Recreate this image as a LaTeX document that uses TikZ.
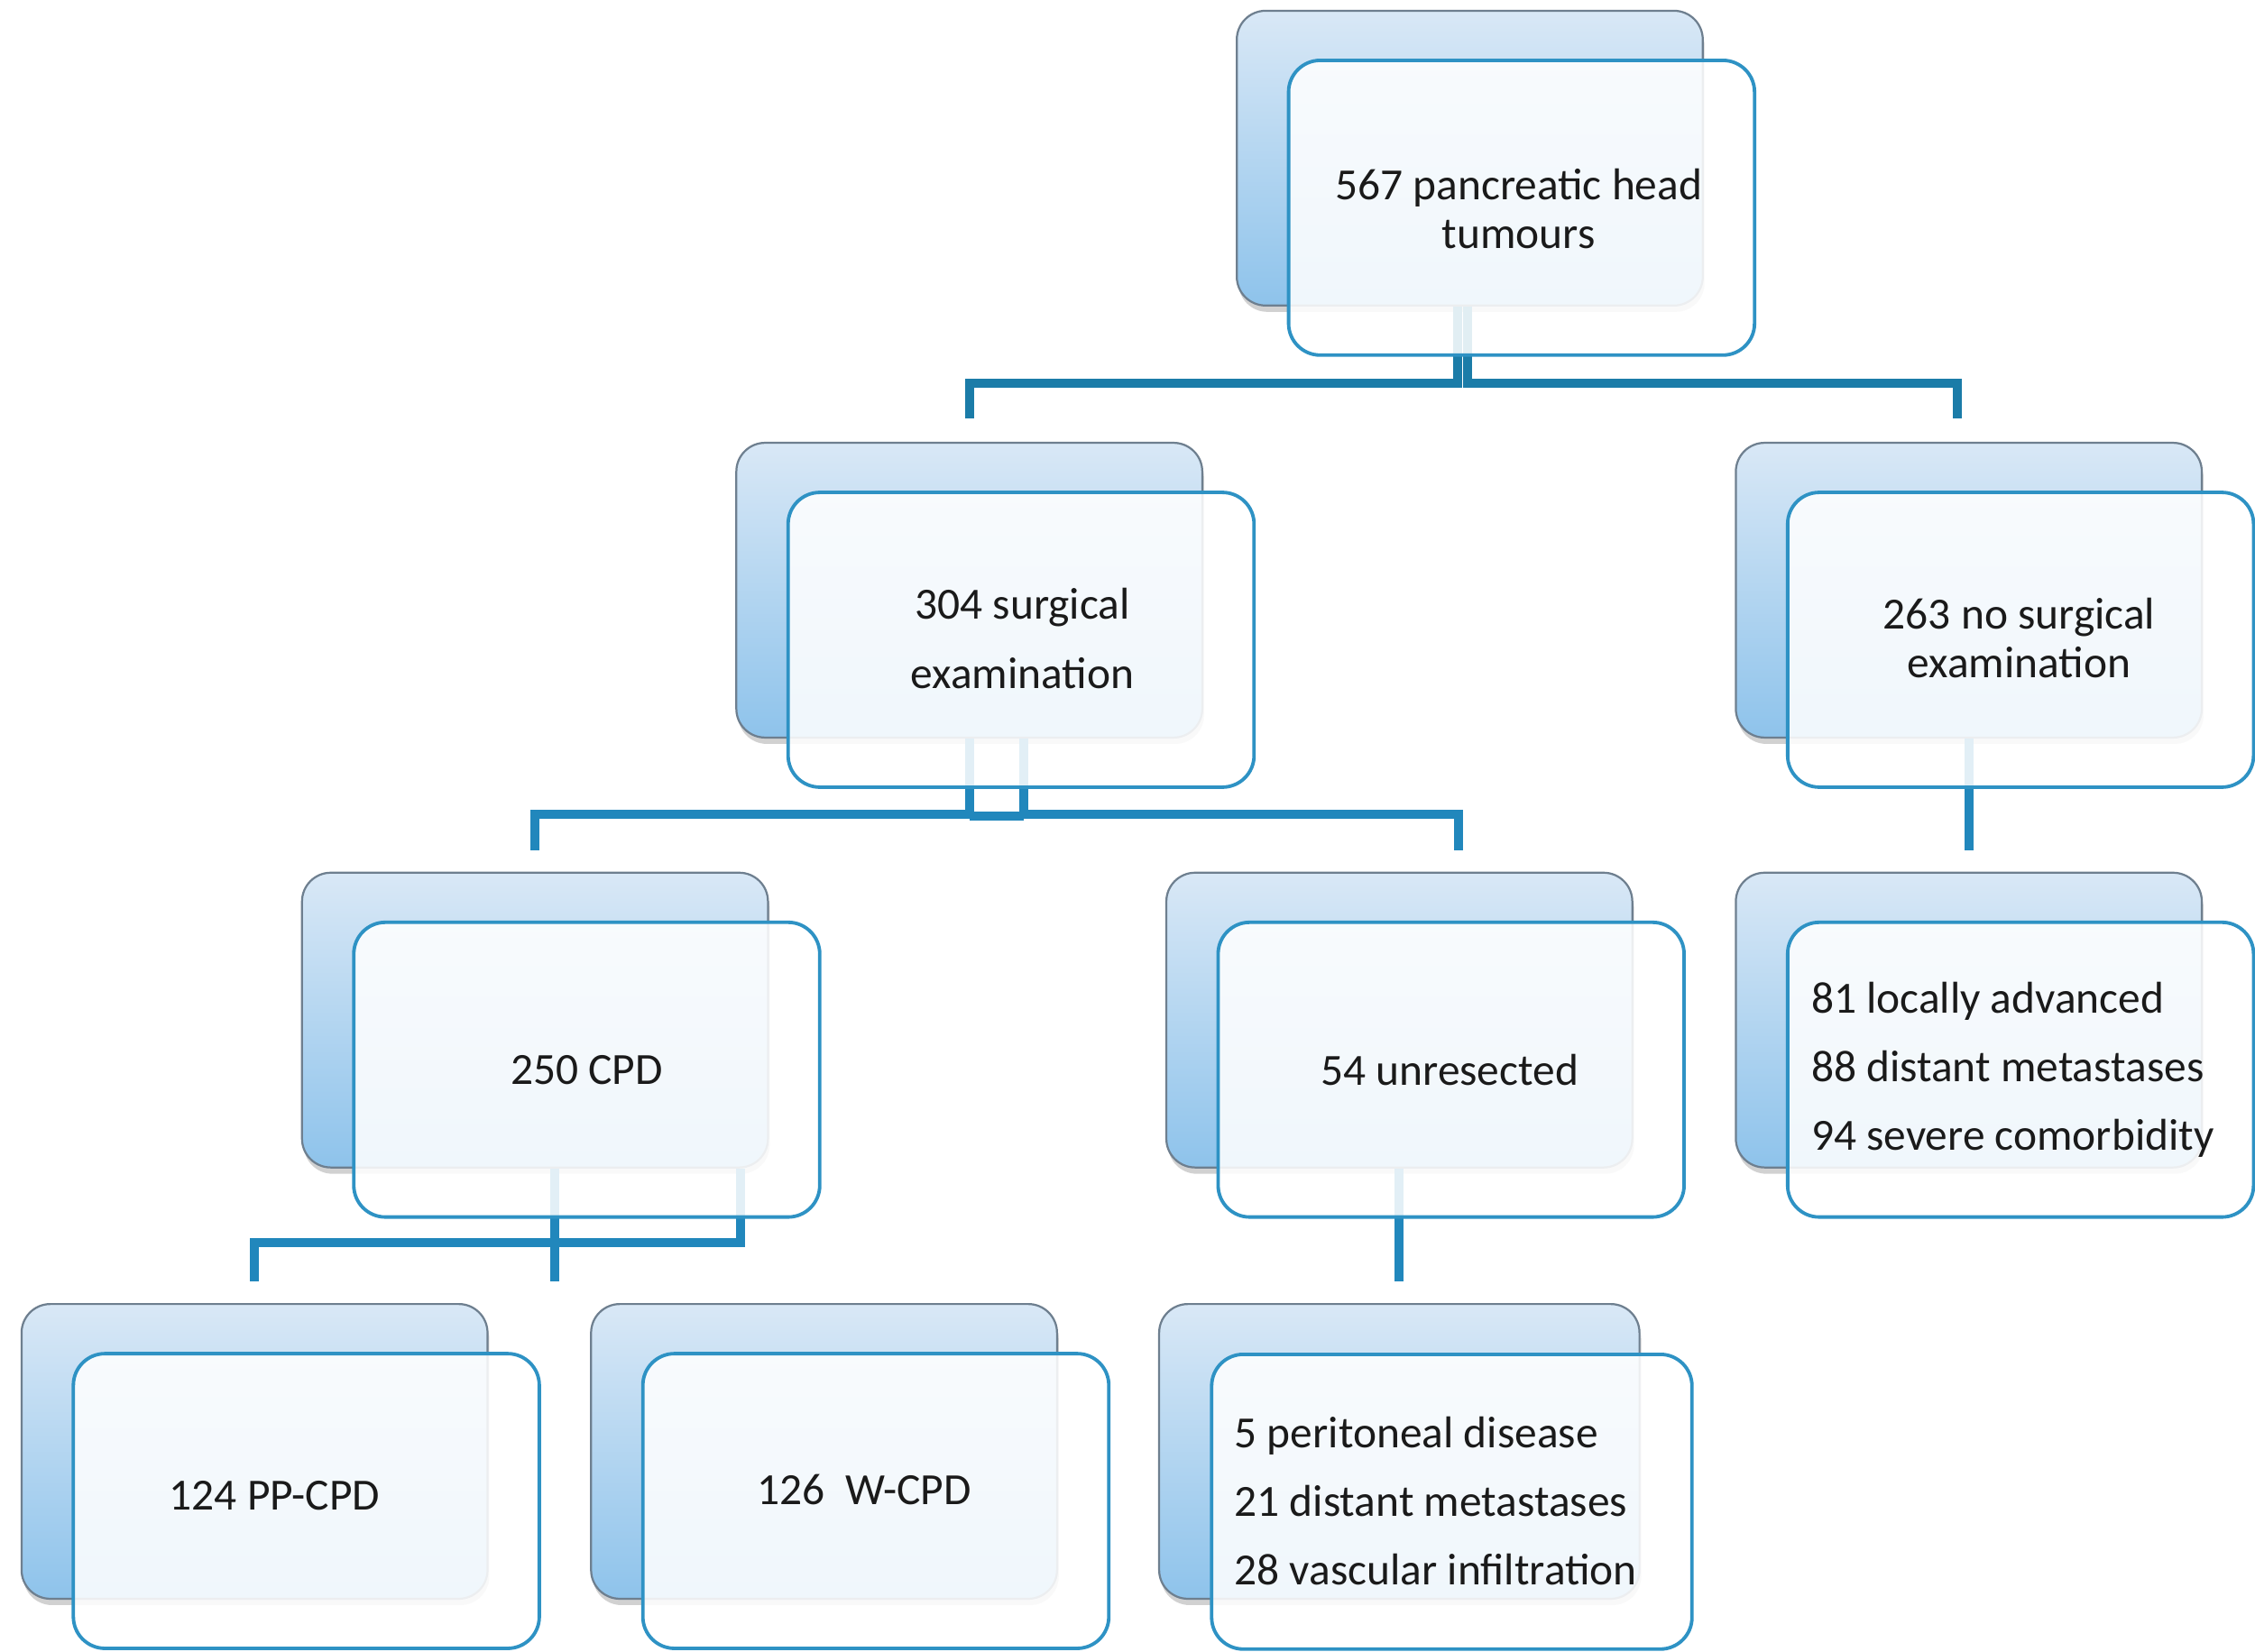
\documentclass[tikz,border=0pt]{standalone}
\usepackage{fontspec}
\setmainfont{Carlito}
\usetikzlibrary{calc,shadows}
\definecolor{boxtop}{HTML}{D9E8F6}
\definecolor{boxbot}{HTML}{8EC3EB}
\definecolor{boxedge}{HTML}{6E7F8F}
\definecolor{frontedge}{HTML}{2E92C4}
\definecolor{linetop}{HTML}{1B7CA8}
\definecolor{linemain}{HTML}{2187BC}
\definecolor{txt}{HTML}{1A1A1A}
\begin{document}
\begin{tikzpicture}[x=0.5pt,y=-0.5pt,
  backbox/.style={rounded corners=10pt, minimum width=162pt, minimum height=102.5pt, inner sep=0pt,
    draw=boxedge, line width=0.7pt, top color=boxtop, bottom color=boxbot,
    drop shadow={shadow xshift=0.6pt, shadow yshift=-2.2pt, opacity=0.3, fill=black!60}},
  frontbox/.style={rounded corners=11pt, minimum width=162pt, minimum height=102.5pt, inner sep=0pt,
    draw=frontedge, line width=1.2pt, fill=white, fill opacity=0.87},
  conn/.style={draw=linemain, line width=3.1pt, line cap=butt, line join=miter},
  conntop/.style={conn, draw=linetop},
  txtc/.style={text=txt, inner sep=0pt, font=\fontsize{15.5pt}{17pt}\selectfont, align=center},
  txtl/.style={text=txt, inner sep=0pt, font=\fontsize{15.5pt}{23.75pt}\selectfont, align=left},
]
\useasboundingbox (0,0) rectangle (1568,1149);

% back boxes
\node[backbox] (b1) at (1022,110) {};
\node[backbox] (b2) at (674,410.5) {};
\node[backbox] (b3) at (1369,410.5) {};
\node[backbox] (b4) at (372,709.5) {};
\node[backbox] (b5) at (973,709.5) {};
\node[backbox] (b6) at (1369,709.5) {};
\node[backbox] (b7) at (177,1009.5) {};
\node[backbox] (b8) at (573,1009.5) {};
\node[backbox, minimum width=167pt] (b9) at (973,1009.5) {};

% connectors
\draw[conntop] ($(b1.south)+(-8.5,0)$) |- ($(b2.north)+(0,-41)$) -- ($(b2.north)+(0,-16)$);
\draw[conntop] ($(b1.south)+(-1.5,0)$) |- ($(b3.north)+(-8,-41)$) -- ($(b3.north)+(-8,-16)$);
\draw[conn] (b2.south) |- ($(b4.north)+(0,-40)$) -- ($(b4.north)+(0,-15)$);
\draw[conn] ($(b2.south)+(38,0)$) |- ($(b5.north)+(41,-40)$) -- ($(b5.north)+(41,-15)$);
\draw[conn] ($(b2.south)+(0,54)$) -- ($(b2.south)+(38,54)$);
\draw[conn] (b3.south) -- ($(b6.north)+(0,-15)$);
\draw[conn] ($(b4.south)+(14,0)$) |- ($(b7.north)+(0,-42)$) -- ($(b7.north)+(0,-15)$);
\draw[conn] ($(b4.south)+(143,0)$) |- ($(b8.north)+(-187,-42)$) -- ($(b8.north)+(-187,-15)$);
\draw[conn] (b5.south) -- ($(b9.north)+(0,-15)$);

% front boxes
\node[frontbox] (f1) at (1058,144.5) {};
\node[frontbox] (f2) at (710,445) {};
\node[frontbox] (f3) at (1405,445) {};
\node[frontbox] (f4) at (408,744) {};
\node[frontbox] (f5) at (1009,744) {};
\node[frontbox] (f6) at (1405,744) {};
\node[frontbox] (f7) at (213,1044) {};
\node[frontbox] (f8) at (609,1044) {};
\node[frontbox, minimum width=167pt] (f9) at (1009.5,1044.5) {};

% texts
\node[txtc] (t1) at (1056,145) {567 pancreatic head\\tumours};
\node[txtc, font=\fontsize{15.5pt}{24pt}\selectfont] (t2) at (711,444) {304 surgical\\examination};
\node[txtc] (t3) at (1404,444) {263 no surgical\\examination};
\node[txtc] (t4) at (408,744) {250 CPD};
\node[txtc] (t5) at (1008,744) {54 unresected};
\node[txtl, anchor=west] (t6) at (1259,744) {81 locally advanced\\88 distant metastases\\94 severe comorbidity};
\node[txtc] (t7) at (191,1040) {124 PP-CPD};
\node[txtc] (t8) at (601,1036) {126\ \ W-CPD};
\node[txtl, anchor=west] (t9) at (858,1044) {5 peritoneal disease\\21 distant metastases\\28 vascular infiltration};
\end{tikzpicture}
\end{document}
